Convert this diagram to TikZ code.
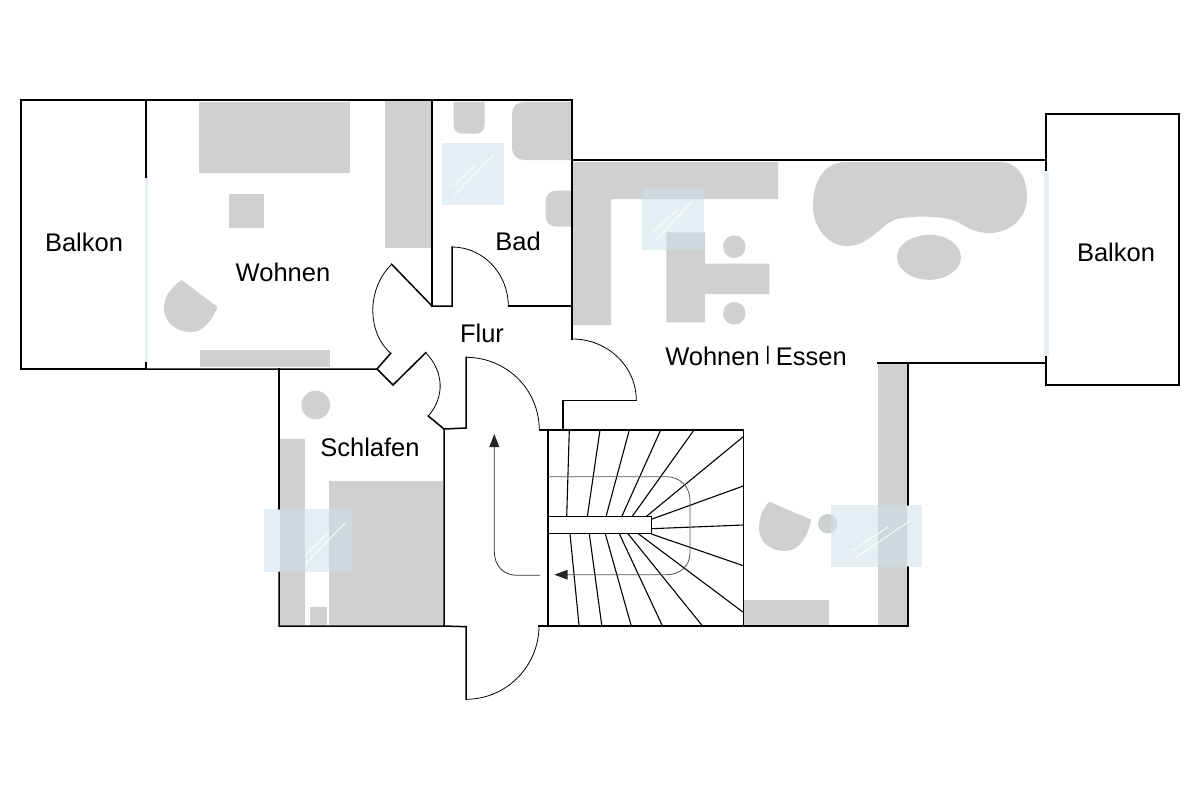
\documentclass[tikz,border=0pt]{standalone}
\usepackage{fontspec}
\setmainfont{Liberation Sans}
\definecolor{furn}{HTML}{CFD1D1}
\definecolor{skyc}{HTML}{CDE1E9}
\definecolor{winc}{HTML}{E6F0F4}
\definecolor{walkc}{HTML}{555555}
\tikzset{
  wall/.style={draw=black,line width=1.5bp,line join=miter,line cap=rect},
  doorarc/.style={draw=black,line width=0.8bp},
  stepline/.style={draw=black,line width=1.1bp},
  walkline/.style={draw=walkc,line width=0.8bp},
  furniture/.style={fill=furn,draw=none},
  skylight/.style={fill=skyc,fill opacity=0.5,draw=none},
  glint/.style={draw=white,line width=0.9bp,opacity=0.9},
  windowpane/.style={fill=winc,draw=none},
  room/.style={anchor=base,inner sep=0pt,font=\fontsize{25.5bp}{30bp}\selectfont,text=black}
}
\begin{document}
\begin{tikzpicture}[x=1bp,y=-1bp]
\useasboundingbox (0,0) rectangle (1200,800);
\fill[white] (0,0) rectangle (1200,800);
% furniture
\fill[furniture] (199,102) rectangle (350,173);
\fill[furniture] (385,101) rectangle (432,248);
\fill[furniture] (229,194) rectangle (263.5,228);
\fill[furniture] (200,350) rectangle (330,367);
\fill[furniture] (181.6,280) -- (217.6,307) .. controls (212,320) and (203,332) .. (192,332) .. controls (175,332) and (164,322) .. (164,307) .. controls (164,296) and (172,287) .. (181.6,280) -- cycle;
\fill[furniture] (453.6,102) -- (484.5,102) -- (484.5,125) .. controls (484.5,130) and (481,133.7) .. (476,133.7) -- (462,133.7) .. controls (457,133.7) and (453.6,130) .. (453.6,125) -- cycle;
\fill[furniture] (571,102) -- (524,102) .. controls (517,102) and (512,107) .. (512,114) -- (512,148) .. controls (512,155) and (517,160) .. (524,160) -- (571,160) -- cycle;
\fill[furniture] (571,190.7) -- (556,190.7) .. controls (550,190.7) and (545.6,195) .. (545.6,201) -- (545.6,216) .. controls (545.6,222) and (550,226.7) .. (556,226.7) -- (571,226.7) -- cycle;
\fill[furniture] (573,162) -- (778,162) -- (778,199) -- (611,199) -- (611,325) -- (573,325) -- cycle;
\fill[furniture] (666.3,232.3) -- (705,232.3) -- (705,263.7) -- (769.3,263.7) -- (769.3,294) -- (705,294) -- (705,322.3) -- (666.3,322.3) -- cycle;
\fill[furniture] (734.3,246.7) circle[radius=11.3];
\fill[furniture] (734.3,313.3) circle[radius=11.3];
\fill[furniture] (929,257.3) ellipse[x radius=32,y radius=22.5];
\fill[furniture] (846,162) -- (1000,162) .. controls (1018,162) and (1027,178) .. (1027,197) .. controls (1027,220) and (1008,233) .. (990,233) .. controls (975,233) and (968,228) .. (958,222) .. controls (945,216) and (915,215) .. (897,219) .. controls (882,223) and (870,246) .. (847,246) .. controls (828,246) and (813,228) .. (813,206) .. controls (813,180) and (825,162) .. (846,162) -- cycle;
\fill[furniture] (315.7,405) circle[radius=14.3];
\fill[furniture] (280,439.3) rectangle (305,625);
\fill[furniture] (329,480.7) rectangle (443,625);
\fill[furniture] (310,607.3) rectangle (327,625);
\fill[furniture] (877.7,363) rectangle (907,625);
\fill[furniture] (827.7,523.7) circle[radius=9.7];
\fill[furniture] (769.3,501.7) -- (811.3,519.7) .. controls (808,535) and (800,551) .. (785,551) .. controls (770,551) and (759,542) .. (759,528) .. controls (759,518) and (763,508) .. (769.3,501.7) -- cycle;
\fill[furniture] (744.3,600) rectangle (829.3,625);
% windows
\fill[windowpane] (144.5,176) rectangle (148,363);
\fill[windowpane] (1044,170) rectangle (1049,357);
% walls
\draw[wall] (146,369) -- (21,369) -- (21,100) -- (572,100) -- (572,339);
\draw[wall] (146,100) -- (146,177);
\draw[wall] (146,363) -- (146,369);
\draw[wall] (146,369) -- (377,369) -- (393,385) -- (425.7,352.7);
\draw[wall] (377,369) -- (390.7,353.3);
\draw[wall] (391.7,264.3) -- (432,306) -- (452,306) -- (452,247);
\draw[wall] (432,100) -- (432,306);
\draw[wall] (508.3,306) -- (572,306);
\draw[wall] (572,160) -- (1046,160);
\draw[wall] (1046,170) -- (1046,114) -- (1179,114) -- (1179,385) -- (1046,385) -- (1046,357);
\draw[wall,line width=1.1bp] (878,363) -- (1046,363);
\draw[wall] (908,363) -- (908,505);
\draw[wall] (908,567) -- (908,626) -- (539,626) ;
\draw[wall] (279,369) -- (279,509);
\draw[wall] (279,572) -- (279,626) -- (444,626) -- (444,429) -- (466,428) -- (466,357.3);
\draw[wall] (444,429) -- (428.3,416);
\draw[wall] (444,626) -- (466,626.7) -- (466,699.3);
\draw[wall] (636.3,400.3) -- (563,400.3) -- (563,430);
\draw[wall] (539.3,430) -- (743.5,430) -- (743.5,626);
\draw[wall] (548,430) -- (548,626);
\draw[wall,line width=1.3bp] (548,516.7) rectangle (651.3,533.7);
% door swings
\draw[doorarc] (452,247) .. controls (483,247) and (508.3,273.4) .. (508.3,306);
\draw[doorarc] (391.7,264.3) .. controls (367.7,287) and (365.7,331) .. (390.7,353.3);
\draw[doorarc] (425.7,352.7) .. controls (443.7,371) and (445.3,396.5) .. (428.3,416);
\draw[doorarc] (466,357.3) .. controls (506.5,357.3) and (539.3,389.5) .. (539.3,430);
\draw[doorarc] (572.3,339) .. controls (607.6,339) and (636.3,366.4) .. (636.3,400.3);
\draw[doorarc] (466,699.3) .. controls (506.5,699.3) and (539,666) .. (539,626);
% stair treads
\foreach \ax/\ay/\bx/\by in {
 569.3/430/566.7/516.7, 600/430/587.3/516.7, 629.3/430/606/516.7, 660.7/430/621.7/516.7, 694/430/632/516.7,
 743.3/436.7/646/516.7, 743.3/486/651.3/519.3, 743.3/525/651.3/528.7, 743.3/565.7/651.3/534,
 743.3/612.3/638.3/533.7, 701.7/625/628/533.7, 662/625/619.3/533.7, 631/625/605.3/533.7, 601.7/625/589.3/533.7, 579/625/570/533.7}
 {\draw[stepline] (\ax,\ay) -- (\bx,\by);}
% walking line
\draw[walkline] (548,476.7) -- (666.7,476.7) .. controls (680,476.7) and (690,487) .. (690,500) -- (690,553) .. controls (690,566) and (680,574.7) .. (666.7,574.7) -- (567,574.7);
\fill[black!85] (554.3,574.7) -- (567.7,569.7) -- (567.7,579.7) -- cycle;
\draw[walkline,draw=black!80] (540,575.3) -- (517,575.3) .. controls (503,575.3) and (494.3,565) .. (494.3,551.7) -- (494.3,446);
\fill[black!85] (494.3,434) -- (489.3,447) -- (499.3,447) -- cycle;
% skylights
\fill[skylight] (441.6,142.7) rectangle (503.5,205.3);
\fill[skylight] (642,188) rectangle (704,250);
\fill[skylight] (264,509.3) rectangle (352,571.7);
\fill[skylight] (831,504.7) rectangle (922,567);
\draw[glint] (452.5,186) -- (476.5,164.7);
\draw[glint] (454.4,195) -- (493.6,155);
\draw[glint] (653.3,231.7) -- (678.3,209.3);
\draw[glint] (655,240.7) -- (692.7,201);
\draw[glint] (305,555.7) -- (329.3,531);
\draw[glint] (306,563.3) -- (345.3,522.7);
\draw[glint] (852.3,550.7) -- (887.7,527.3);
\draw[glint] (855,558.3) -- (910,520.7);
% labels
\node[room] (balkonL) at (84,251) {Balkon};
\node[room] (wohnen) at (283,281) {Wohnen};
\node[room] (bad) at (518,250) {Bad};
\node[room] (flur) at (482,342) {Flur};
\node[room] (schlafen) at (370,456) {Schlafen};
\node[room] (wohnenessen) at (756,365) {Wohnen\kern5.5bp\raisebox{4.1bp}{\fontsize{19.5bp}{20bp}\selectfont|}\kern5.5bp Essen};
\node[room] (balkonR) at (1116,261) {Balkon};
\end{tikzpicture}
\end{document}
